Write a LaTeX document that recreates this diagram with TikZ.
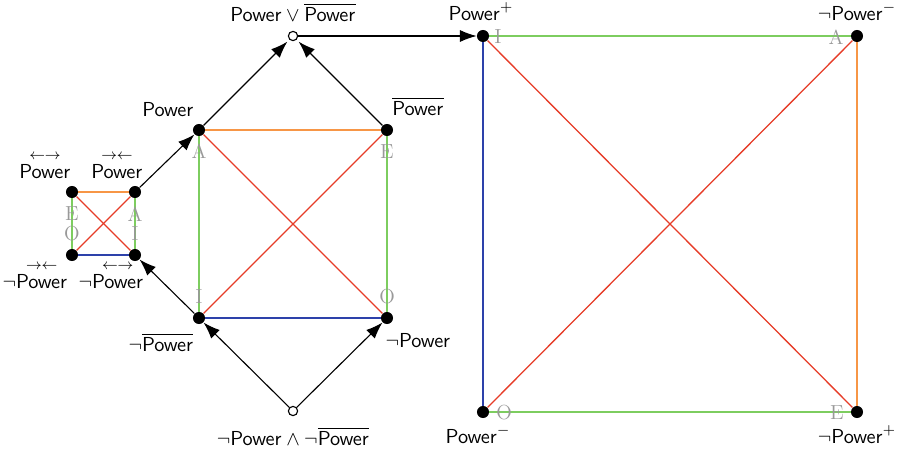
\documentclass[tikz,border=0pt]{standalone}
\usepackage{amsmath}
\usepackage{xcolor}
\usetikzlibrary{arrows, arrows.meta, positioning, calc}

\definecolor{contrary}{RGB}{247,150,70}
\definecolor{subalt}{RGB}{125,205,95}
\definecolor{contra}{RGB}{230,60,40}
\definecolor{subcon}{RGB}{45,65,170}

\begin{document}
\begin{tikzpicture}[x=0.019cm, y=-0.019cm,
    dot/.style={circle, fill=black, inner sep=0pt, minimum size=6.5pt},
    hollow/.style={circle, fill=white, draw=black, semithick, inner sep=0pt, minimum size=5pt},
    corner/.style={text=black!40, font=\fontsize{11}{13}\selectfont\rmfamily, inner sep=0pt},
    txt/.style={anchor=base, inner sep=0pt, font=\fontsize{11}{13}\selectfont},
    sqline/.style={line width=0.7pt},
    imp/.style={-{Latex[length=9pt, width=6.5pt]}, semithick}]
        \useasboundingbox (0, 0) rectangle (902, 452);

        % the nodes
        \node[hollow] (top) at (293, 36) {};
        \node[hollow] (bot) at (293, 411) {};
        \node[dot] (mA) at (199, 130) {};
        \node[dot] (mE) at (387, 130) {};
        \node[dot] (mI) at (199, 318) {};
        \node[dot] (mO) at (387, 318) {};
        \node[dot] (sE) at (72, 192) {};
        \node[dot] (sA) at (135, 192) {};
        \node[dot] (sO) at (72, 255) {};
        \node[dot] (sI) at (135, 255) {};
        \node[dot] (bI) at (483, 36) {};
        \node[dot] (bA) at (857, 36) {};
        \node[dot] (bO) at (483, 412) {};
        \node[dot] (bE) at (857, 412) {};

        % the squares
        \draw[sqline, contrary] (sE) -- (sA);
        \draw[sqline, subalt] (sE) -- (sO);
        \draw[sqline, subalt] (sA) -- (sI);
        \draw[sqline, subcon] (sO) -- (sI);
        \draw[sqline, contra] (sE) -- (sI);
        \draw[sqline, contra] (sA) -- (sO);

        \draw[sqline, contrary] (mA) -- (mE);
        \draw[sqline, subalt] (mA) -- (mI);
        \draw[sqline, subalt] (mE) -- (mO);
        \draw[sqline, subcon] (mI) -- (mO);
        \draw[sqline, contra] (mA) -- (mO);
        \draw[sqline, contra] (mE) -- (mI);

        \draw[sqline, subalt] (bI) -- (bA);
        \draw[sqline, subcon] (bI) -- (bO);
        \draw[sqline, contrary] (bA) -- (bE);
        \draw[sqline, subalt] (bO) -- (bE);
        \draw[sqline, contra] (bI) -- (bE);
        \draw[sqline, contra] (bA) -- (bO);

        % the letters
        \node[corner] (lsE) at (72, 214) {E};
        \node[corner] (lsO) at (72, 234) {O};
        \node[corner] (lsA) at (135, 214) {A};
        \node[corner] (lsI) at (135, 234) {I};
        \node[corner] (lmA) at (199, 151) {A};
        \node[corner] (lmE) at (387, 152) {E};
        \node[corner] (lmI) at (199, 297) {I};
        \node[corner] (lmO) at (387, 297) {O};
        \node[corner] (lbI) at (498, 37) {I};
        \node[corner] (lbA) at (836, 37) {A};
        \node[corner] (lbO) at (504, 413) {O};
        \node[corner] (lbE) at (837, 413) {E};

        % the arrows
        \draw[imp] (sA) -- (mA);
        \draw[imp] (mI) -- (sI);
        \draw[imp, shorten >=1.5pt] (mA) -- (top);
        \draw[imp, shorten >=1.5pt] (mE) -- (top);
        \draw[imp] (bot) -- (mI);
        \draw[imp] (bot) -- (mO);
        \draw[imp] (top) -- (bI);

        % the labels
        \node[txt] (tsE) at (45, 178) {$\overset{\leftarrow\rightarrow}{\mathsf{Power}}$};
        \node[txt] (tsA) at (117, 178) {$\overset{\rightarrow\leftarrow}{\mathsf{Power}}$};
        \node[txt] (tsO) at (35, 288) {$\neg\overset{\rightarrow\leftarrow}{\mathsf{Power}}$};
        \node[txt] (tsI) at (111, 288) {$\neg\overset{\leftarrow\rightarrow}{\mathsf{Power}}$};
        \node[txt] (tmA) at (168, 116) {$\mathsf{Power}$};
        \node[txt] (tmE) at (418, 115) {$\overline{\mathsf{Power}}$};
        \node[txt] (tmI) at (161, 351) {$\neg\overline{\mathsf{Power}}$};
        \node[txt] (tmO) at (418, 347) {$\neg\mathsf{Power}$};
        \node[txt] (ttop) at (293, 21) {$\mathsf{Power}\vee\overline{\mathsf{Power}}$};
        \node[txt] (tbot) at (293, 445) {$\neg\mathsf{Power}\wedge\neg\overline{\mathsf{Power}}$};
        \node[txt] (tbI) at (481, 20) {$\mathsf{Power}^{+}$};
        \node[txt] (tbA) at (857, 20) {$\neg\mathsf{Power}^{-}$};
        \node[txt] (tbO) at (478, 443) {$\mathsf{Power}^{-}$};
        \node[txt] (tbE) at (857, 443) {$\neg\mathsf{Power}^{+}$};

\end{tikzpicture}
\end{document}
